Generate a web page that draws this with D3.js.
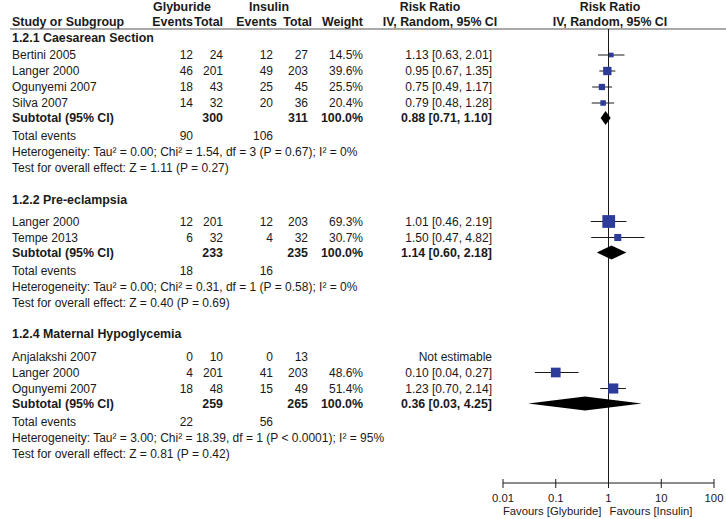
<!DOCTYPE html>
<html>
<head>
<meta charset="utf-8">
<script src="https://cdn.jsdelivr.net/npm/d3@7"></script>
<style>
  html, body { margin: 0; padding: 0; background: #fff; }
  svg { display: block; }
  text { font-family: Arial, "Liberation Sans", Helvetica, sans-serif; font-size: 12px; fill: #1a1a1a; }
  .b { font-weight: bold; font-size: 12.4px; }
  .ax { font-size: 11.3px; }
</style>
</head>
<body>
<svg id="chart" width="726" height="519"></svg>
<script>
// ---------------- DATA ----------------
const groupTitles = ["1.2.1 Caesarean Section", "1.2.2 Pre-eclampsia", "1.2.4 Maternal Hypoglycemia"];
const studyGroup = [0, 0, 0, 0, 1, 1, 2, 2, 2];
const studyNames = ["Bertini 2005", "Langer 2000", "Ogunyemi 2007", "Silva 2007",
                    "Langer 2000", "Tempe 2013",
                    "Anjalakshi 2007", "Langer 2000", "Ogunyemi 2007"];
const glyEvents = [12, 46, 18, 14, 12, 6, 0, 4, 18];
const glyTotal  = [24, 201, 43, 32, 201, 32, 10, 201, 48];
const insEvents = [12, 49, 25, 20, 12, 4, 0, 41, 15];
const insTotal  = [27, 203, 45, 36, 203, 32, 13, 203, 49];
const weights   = [14.5, 39.6, 25.5, 20.4, 69.3, 30.7, null, 48.6, 51.4];
const rr        = [1.13, 0.95, 0.75, 0.79, 1.01, 1.50, null, 0.10, 1.23];
const rrLow     = [0.63, 0.67, 0.49, 0.48, 0.46, 0.47, null, 0.04, 0.70];
const rrHigh    = [2.01, 1.35, 1.17, 1.28, 2.19, 4.82, null, 0.27, 2.14];

const subGlyTotal = [300, 233, 259];
const subInsTotal = [311, 235, 265];
const subRR   = [0.88, 1.14, 0.36];
const subLow  = [0.71, 0.60, 0.03];
const subHigh = [1.10, 2.18, 4.25];
const totGlyEvents = [90, 18, 22];
const totInsEvents = [106, 16, 56];
const heterogeneity = [
  "Heterogeneity: Tau² = 0.00; Chi² = 1.54, df = 3 (P = 0.67); I² = 0%",
  "Heterogeneity: Tau² = 0.00; Chi² = 0.31, df = 1 (P = 0.58); I² = 0%",
  "Heterogeneity: Tau² = 3.00; Chi² = 18.39, df = 1 (P < 0.0001); I² = 95%"
];
const overallEffect = [
  "Test for overall effect: Z = 1.11 (P = 0.27)",
  "Test for overall effect: Z = 0.40 (P = 0.69)",
  "Test for overall effect: Z = 0.81 (P = 0.42)"
];
const axisTicks = [0.01, 0.1, 1, 10, 100];
const tickLabels = ["0.01", "0.1", "1", "10", "100"];
const favourLabels = ["Favours [Glyburide]", "Favours [Insulin]"];

// ---------------- LAYOUT ----------------
const svg = d3.select("#chart");
const f2 = d3.format(".2f");
const ciText = (m, l, h) => `${f2(m)} [${f2(l)}, ${f2(h)}]`;

const col = { study: 12, ev1: 193, tot1: 223, ev2: 273, tot2: 308, weight: 363, rr: 492 };
const x = d3.scaleLog().domain([0.01, 100]).range([503, 714]);
const boxSize = d3.scaleLinear().domain([0, 100]).range([2.5, 17.3]);
const axisY = 483;
const headLineY = 29;
const blue = "#2e3c99";
const ink = "#1a1a1a";

// rows with vertical gaps
const firstGap = [17, 22, 22.5];
const rows = [];
groupTitles.forEach((t, g) => {
  rows.push({ type: "hdr", g, gap: g === 0 ? 0 : 31.5 });
  let first = true;
  studyNames.forEach((n, i) => {
    if (studyGroup[i] === g) { rows.push({ type: "study", g, i, gap: first ? firstGap[g] : 16 }); first = false; }
  });
  rows.push({ type: "sub", g, gap: 15 });
  rows.push({ type: "tot", g, gap: 18 });
  rows.push({ type: "het", g, gap: 16 });
  rows.push({ type: "test", g, gap: 16 });
});
let acc = 38;
rows.forEach(r => { acc += r.gap; r.y = acc; });

function txt(xp, y, s, anchor, bold) {
  svg.append("text").attr("x", xp).attr("y", y + 4.4)
    .attr("text-anchor", anchor || "start")
    .attr("class", bold ? "b" : null).text(s);
}

// ---------------- HEADER ----------------
txt(182, 7, "Glyburide", "middle", true);
txt(269, 7, "Insulin", "middle", true);
txt(430, 7, "Risk Ratio", "middle", true);
txt(610, 7, "Risk Ratio", "middle", true);
txt(col.study, 22, "Study or Subgroup", "start", true);
txt(col.ev1, 22, "Events", "end", true);
txt(col.tot1, 22, "Total", "end", true);
txt(col.ev2 + 4, 22, "Events", "end", true);
txt(col.tot2 + 4, 22, "Total", "end", true);
txt(col.weight, 22, "Weight", "end", true);
txt(440, 22, "IV, Random, 95% CI", "middle", true);
txt(610, 22, "IV, Random, 95% CI", "middle", true);

svg.append("line").attr("x1", 10).attr("x2", 726).attr("y1", headLineY).attr("y2", headLineY)
  .attr("stroke", "#555").attr("stroke-width", 1.2);

// vertical line of no effect
svg.append("line").attr("x1", x(1)).attr("x2", x(1)).attr("y1", headLineY).attr("y2", axisY)
  .attr("stroke", ink).attr("stroke-width", 1);

// ---------------- ROWS ----------------
rows.forEach(r => {
  const y = r.y, g = r.g;
  if (r.type === "hdr") txt(col.study, y, groupTitles[g], "start", true);
  if (r.type === "study") {
    const i = r.i;
    txt(col.study, y, studyNames[i]);
    txt(col.ev1, y, glyEvents[i], "end");
    txt(col.tot1, y, glyTotal[i], "end");
    txt(col.ev2, y, insEvents[i], "end");
    txt(col.tot2, y, insTotal[i], "end");
    if (weights[i] != null) {
      txt(col.weight, y, d3.format(".1f")(weights[i]) + "%", "end");
      txt(col.rr, y, ciText(rr[i], rrLow[i], rrHigh[i]), "end");
      svg.append("line").attr("x1", x(rrLow[i])).attr("x2", x(rrHigh[i]))
        .attr("y1", y).attr("y2", y).attr("stroke", ink).attr("stroke-width", 1);
      const s = boxSize(weights[i]);
      svg.append("rect").attr("x", x(rr[i]) - s / 2).attr("y", y - s / 2)
        .attr("width", s).attr("height", s).attr("fill", blue);
    } else {
      txt(col.rr, y, "Not estimable", "end");
    }
  }
  if (r.type === "sub") {
    txt(col.study, y, "Subtotal (95% CI)", "start", true);
    txt(col.tot1, y, subGlyTotal[g], "end", true);
    txt(col.tot2, y, subInsTotal[g], "end", true);
    txt(col.weight, y, "100.0%", "end", true);
    txt(col.rr, y, ciText(subRR[g], subLow[g], subHigh[g]), "end", true);
    const h = 7;
    const pts = [[x(subLow[g]), y], [x(subRR[g]), y - h], [x(subHigh[g]), y], [x(subRR[g]), y + h]];
    svg.append("path").attr("d", d3.line()(pts) + "Z").attr("fill", "#000");
  }
  if (r.type === "tot") {
    txt(col.study, y, "Total events");
    txt(col.ev1, y, totGlyEvents[g], "end");
    txt(col.ev2, y, totInsEvents[g], "end");
  }
  if (r.type === "het") txt(col.study, y, heterogeneity[g]);
  if (r.type === "test") txt(col.study, y, overallEffect[g]);
});

// ---------------- AXIS ----------------
svg.append("line").attr("x1", x(0.01)).attr("x2", x(100)).attr("y1", axisY).attr("y2", axisY)
  .attr("stroke", ink).attr("stroke-width", 1);
axisTicks.forEach((t, k) => {
  svg.append("line").attr("x1", x(t)).attr("x2", x(t)).attr("y1", axisY - 4).attr("y2", axisY + 5)
    .attr("stroke", ink).attr("stroke-width", 1);
  svg.append("text").attr("class", "ax").attr("x", x(t)).attr("y", 502).attr("text-anchor", "middle").text(tickLabels[k]);
});
svg.append("text").attr("class", "ax").attr("x", x(1) - 7).attr("y", 515).attr("text-anchor", "end").text(favourLabels[0]);
svg.append("text").attr("class", "ax").attr("x", x(1) + 1).attr("y", 515).attr("text-anchor", "start").text(favourLabels[1]);
</script>
</body>
</html>
